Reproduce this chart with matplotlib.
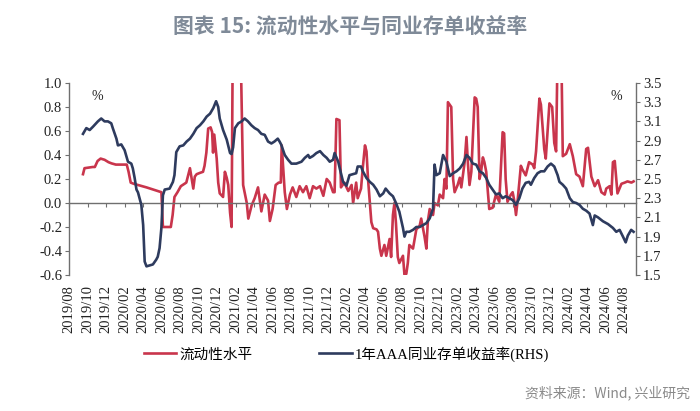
import pandas as pd
import matplotlib
matplotlib.use("Agg")
import matplotlib.pyplot as plt
import matplotlib.dates as mdates

plt.rcParams['font.serif'] = ['Liberation Serif', 'Times New Roman', 'DejaVu Serif']
plt.rcParams['font.family'] = ['serif', 'Noto Sans CJK SC']

# ===== DATA =====
liq_dates = [
    '2019-09-16', '2019-09-21', '2019-10-18', '2019-10-25', '2019-11-03', '2019-11-13', '2019-11-26',
    '2019-12-09', '2019-12-19', '2020-01-02', '2020-02-07', '2020-02-13', '2020-02-20', '2020-03-01',
    '2020-04-12', '2020-05-31', '2020-06-05', '2020-07-01', '2020-07-07', '2020-07-13', '2020-07-23',
    '2020-08-03', '2020-08-21', '2020-09-02', '2020-09-13', '2020-09-18', '2020-09-24', '2020-10-04',
    '2020-10-15', '2020-10-20', '2020-10-26', '2020-11-01', '2020-11-09', '2020-11-14', '2020-11-17',
    '2020-11-21', '2020-11-29', '2020-12-04', '2020-12-09', '2020-12-20', '2020-12-26', '2021-01-01',
    '2021-01-06', '2021-01-12', '2021-01-17', '2021-01-21', '2021-02-15', '2021-02-24', '2021-03-08',
    '2021-03-13', '2021-03-24', '2021-04-03', '2021-04-14', '2021-04-25', '2021-05-06', '2021-05-17',
    '2021-05-23', '2021-06-01', '2021-06-11', '2021-06-21', '2021-06-28', '2021-07-01', '2021-07-11',
    '2021-07-18', '2021-07-28', '2021-08-06', '2021-08-18', '2021-08-29', '2021-09-09', '2021-09-20',
    '2021-10-01', '2021-10-12', '2021-10-23', '2021-11-04', '2021-11-15', '2021-11-26', '2021-12-06',
    '2021-12-17', '2021-12-22', '2021-12-28', '2022-01-07', '2022-01-12', '2022-01-23', '2022-02-05',
    '2022-02-16', '2022-02-21', '2022-03-03', '2022-03-08', '2022-03-19', '2022-03-25', '2022-04-01',
    '2022-04-06', '2022-04-11', '2022-04-17', '2022-04-22', '2022-04-28', '2022-05-09', '2022-05-14',
    '2022-05-20', '2022-05-25', '2022-06-04', '2022-06-10', '2022-06-21', '2022-06-26', '2022-07-02',
    '2022-07-07', '2022-07-12', '2022-07-18', '2022-07-23', '2022-08-04', '2022-08-09', '2022-08-15',
    '2022-08-20', '2022-08-25', '2022-09-06', '2022-09-17', '2022-09-28', '2022-10-03', '2022-10-14',
    '2022-10-20', '2022-10-25', '2022-10-31', '2022-11-11', '2022-11-16', '2022-11-27', '2022-12-03',
    '2022-12-14', '2022-12-19', '2022-12-25', '2022-12-30', '2023-01-10', '2023-01-16', '2023-01-21',
    '2023-01-31', '2023-02-07', '2023-02-12', '2023-02-23', '2023-03-01', '2023-03-06', '2023-03-11',
    '2023-03-17', '2023-03-28', '2023-04-02', '2023-04-07', '2023-04-13', '2023-04-18', '2023-04-24',
    '2023-04-29', '2023-05-05', '2023-05-15', '2023-05-26', '2023-06-06', '2023-06-17', '2023-06-28',
    '2023-07-03', '2023-07-08', '2023-07-14', '2023-07-25', '2023-07-31', '2023-08-06', '2023-08-11',
    '2023-08-16', '2023-08-27', '2023-09-01', '2023-09-12', '2023-09-23', '2023-10-05', '2023-10-10',
    '2023-10-16', '2023-10-27', '2023-11-01', '2023-11-12', '2023-11-17', '2023-11-29', '2023-12-08',
    '2023-12-15', '2023-12-21', '2023-12-26', '2024-01-07', '2024-01-12', '2024-01-23', '2024-02-04',
    '2024-02-14', '2024-02-25', '2024-03-07', '2024-03-18', '2024-03-29', '2024-04-04', '2024-04-15',
    '2024-04-26', '2024-05-07', '2024-05-18', '2024-05-29', '2024-06-03', '2024-06-14', '2024-06-20',
    '2024-06-25', '2024-07-01', '2024-07-10', '2024-07-23', '2024-08-03', '2024-08-12', '2024-08-25',
    '2024-09-01',
]
liq_vals = [
    0.24, 0.29, 0.30, 0.30, 0.35, 0.37, 0.36,
    0.34, 0.33, 0.32, 0.32, 0.26, 0.17, 0.16,
    0.13, 0.09, -0.20, -0.20, -0.10, 0.05, 0.09,
    0.14, 0.17, 0.29, 0.12, 0.22, 0.24, 0.25,
    0.26, 0.31, 0.42, 0.62, 0.63, 0.59, 0.42,
    0.57, 0.37, 0.17, 0.08, 0.05, 0.26, 0.21,
    0.15, -0.08, -0.20, 1.40, 1.40, 0.15, 0.00,
    -0.13, -0.02, 0.04, 0.13, -0.07, 0.07, 0.02,
    -0.15, -0.05, 0.15, 0.17, 0.17, 0.48, 0.09,
    -0.05, 0.07, 0.13, 0.05, 0.14, 0.09, 0.14,
    0.04, 0.14, 0.12, 0.14, 0.06, 0.20, 0.17,
    0.09, 0.09, 0.70, 0.69, 0.13, 0.17, 0.10,
    0.15, 0.00, 0.17, 0.04, 0.12, 0.30, 0.48,
    0.43, 0.20, 0.00, -0.16, -0.21, -0.22, -0.24,
    -0.38, -0.44, -0.35, -0.44, -0.30, -0.45, -0.10,
    0.00, -0.17, -0.45, -0.50, -0.44, -0.60, -0.59,
    -0.50, -0.35, -0.38, -0.22, -0.19, -0.13, -0.28,
    -0.38, -0.15, -0.05, -0.10, 0.00, -0.02, 0.07,
    0.04, 0.20, 0.12, 0.84, 0.80, 0.20, 0.09,
    0.15, 0.21, 0.13, 0.34, 0.55, 0.32, 0.15,
    0.26, 0.88, 0.87, 0.80, 0.20, 0.26, 0.38,
    0.34, 0.26, -0.05, -0.04, 0.07, 0.01, 0.59,
    0.58, 0.20, 0.01, 0.07, 0.09, 0.01, -0.10,
    0.01, 0.31, 0.28, 0.23, 0.34, 0.32, 0.29,
    0.43, 0.87, 0.82, 0.45, 0.37, 0.83, 0.80,
    0.50, 0.43, 1.30, 1.30, 0.39, 0.41, 0.49,
    0.39, 0.24, 0.22, 0.14, 0.45, 0.46, 0.22,
    0.14, 0.19, 0.09, 0.07, 0.12, 0.14, 0.07,
    0.34, 0.35, 0.08, 0.16, 0.17, 0.18, 0.17,
    0.18,
]

ncd_dates = [
    '2019-09-16', '2019-09-27', '2019-10-08', '2019-10-19', '2019-11-04', '2019-11-15', '2019-11-26',
    '2019-12-07', '2019-12-18', '2019-12-23', '2020-01-04', '2020-01-09', '2020-01-20', '2020-01-31',
    '2020-02-11', '2020-02-22', '2020-02-27', '2020-03-04', '2020-03-10', '2020-03-15', '2020-03-20',
    '2020-03-26', '2020-04-01', '2020-04-06', '2020-04-12', '2020-04-22', '2020-05-03', '2020-05-14',
    '2020-05-19', '2020-05-25', '2020-05-31', '2020-06-05', '2020-06-11', '2020-06-27', '2020-07-08',
    '2020-07-13', '2020-07-19', '2020-07-30', '2020-08-11', '2020-08-22', '2020-09-02', '2020-09-13',
    '2020-09-24', '2020-10-05', '2020-10-16', '2020-10-27', '2020-11-07', '2020-11-18', '2020-11-27',
    '2020-12-04', '2020-12-09', '2020-12-20', '2021-01-01', '2021-01-12', '2021-01-17', '2021-01-22',
    '2021-01-28', '2021-02-08', '2021-02-19', '2021-03-01', '2021-03-12', '2021-03-23', '2021-04-03',
    '2021-04-14', '2021-04-25', '2021-05-06', '2021-05-17', '2021-05-28', '2021-06-07', '2021-06-18',
    '2021-06-24', '2021-06-29', '2021-07-11', '2021-07-22', '2021-08-02', '2021-08-18', '2021-09-04',
    '2021-09-15', '2021-09-26', '2021-10-01', '2021-10-12', '2021-10-23', '2021-11-04', '2021-11-15',
    '2021-11-26', '2021-12-06', '2021-12-17', '2021-12-22', '2022-01-03', '2022-01-08', '2022-01-19',
    '2022-01-30', '2022-02-09', '2022-02-20', '2022-03-03', '2022-03-08', '2022-03-19', '2022-03-25',
    '2022-04-06', '2022-04-17', '2022-04-28', '2022-05-09', '2022-05-20', '2022-05-31', '2022-06-08',
    '2022-06-21', '2022-07-02', '2022-07-12', '2022-07-23', '2022-08-04', '2022-08-09', '2022-08-15',
    '2022-08-25', '2022-09-06', '2022-09-17', '2022-09-28', '2022-10-09', '2022-10-20', '2022-10-31',
    '2022-11-11', '2022-11-16', '2022-11-22', '2022-12-03', '2022-12-14', '2022-12-25', '2023-01-05',
    '2023-01-16', '2023-01-27', '2023-02-07', '2023-02-18', '2023-03-01', '2023-03-11', '2023-03-22',
    '2023-04-02', '2023-04-13', '2023-04-24', '2023-05-05', '2023-05-15', '2023-05-26', '2023-06-06',
    '2023-06-17', '2023-06-28', '2023-07-08', '2023-07-20', '2023-07-31', '2023-08-11', '2023-08-22',
    '2023-09-01', '2023-09-12', '2023-09-23', '2023-09-29', '2023-10-10', '2023-10-21', '2023-11-01',
    '2023-11-12', '2023-11-23', '2023-12-04', '2023-12-15', '2023-12-26', '2024-01-01', '2024-01-12',
    '2024-01-23', '2024-02-04', '2024-02-14', '2024-02-25', '2024-03-07', '2024-03-18', '2024-03-29',
    '2024-04-09', '2024-04-20', '2024-04-26', '2024-05-07', '2024-05-23', '2024-06-09', '2024-06-25',
    '2024-07-06', '2024-07-17', '2024-07-28', '2024-08-06', '2024-08-13', '2024-08-24', '2024-09-01',
]
ncd_vals = [
    2.97, 3.03, 3.01, 3.045, 3.10, 3.13, 3.10,
    3.10, 3.08, 3.03, 2.92, 2.85, 2.86, 2.80,
    2.68, 2.66, 2.61, 2.51, 2.39, 2.36, 2.30,
    2.23, 2.02, 1.64, 1.59, 1.60, 1.61, 1.66,
    1.69, 1.78, 1.99, 2.33, 2.39, 2.40, 2.47,
    2.54, 2.78, 2.84, 2.85, 2.89, 2.92, 2.97,
    3.03, 3.06, 3.10, 3.15, 3.18, 3.24, 3.31,
    3.25, 3.13, 3.01, 2.91, 2.77, 2.76, 2.83,
    3.03, 3.08, 3.10, 3.13, 3.10, 3.06, 3.03,
    3.01, 2.97, 2.96, 2.89, 2.87, 2.89, 2.92,
    2.89, 2.86, 2.75, 2.70, 2.66, 2.66, 2.68,
    2.72, 2.75, 2.72, 2.74, 2.77, 2.79, 2.75,
    2.72, 2.68, 2.70, 2.77, 2.68, 2.61, 2.47,
    2.43, 2.54, 2.55, 2.56, 2.63, 2.63, 2.58,
    2.51, 2.47, 2.44, 2.39, 2.32, 2.35, 2.40,
    2.35, 2.32, 2.25, 2.16, 1.99, 1.90, 1.95,
    1.95, 1.97, 2.00, 2.00, 2.02, 2.04, 2.09,
    2.19, 2.65, 2.54, 2.56, 2.75, 2.68, 2.53,
    2.56, 2.58, 2.61, 2.66, 2.75, 2.72, 2.66,
    2.65, 2.58, 2.56, 2.51, 2.44, 2.39, 2.34,
    2.35, 2.30, 2.32, 2.30, 2.28, 2.23, 2.30,
    2.40, 2.46, 2.47, 2.44, 2.51, 2.56, 2.58,
    2.58, 2.63, 2.66, 2.63, 2.54, 2.47, 2.44,
    2.40, 2.30, 2.26, 2.25, 2.23, 2.19, 2.17,
    2.14, 2.02, 2.12, 2.10, 2.06, 2.03, 1.99,
    1.95, 1.97, 1.90, 1.84, 1.91, 1.97, 1.95,
]

liq_label = '流动性水平'
ncd_label = '1年AAA同业存单收益率(RHS)'
title = '图表 15: 流动性水平与同业存单收益率'
source = '资料来源：Wind, 兴业研究'

RED = '#c9354c'
NAVY = '#2e3b5e'
AXIS = '#6f6f6f'

# ===== PLOT =====
fig = plt.figure(figsize=(7, 4.11), dpi=100)
ax = fig.add_axes([0.0986, 0.3309, 0.81, 0.4672])
ax2 = ax.twinx()

l1, = ax.plot(pd.to_datetime(liq_dates), liq_vals, color=RED, lw=1.9, label=liq_label)
l2, = ax2.plot(pd.to_datetime(ncd_dates), ncd_vals, color=NAVY, lw=1.9, label=ncd_label)

ax.set_ylim(-0.6, 1.0)
ax.set_yticks([-0.6, -0.4, -0.2, 0.0, 0.2, 0.4, 0.6, 0.8, 1.0])
ax.yaxis.set_major_formatter(matplotlib.ticker.FormatStrFormatter('%.1f'))
ax2.set_ylim(1.5, 3.5)
ax2.set_yticks([1.5, 1.7, 1.9, 2.1, 2.3, 2.5, 2.7, 2.9, 3.1, 3.3, 3.5])
ax2.yaxis.set_major_formatter(matplotlib.ticker.FormatStrFormatter('%.1f'))

ax.set_xlim(pd.Timestamp('2019-08-01'), pd.Timestamp('2024-09-09'))
ax.set_xticks(pd.date_range('2019-08-01', '2024-08-01', freq='2MS'))
ax.xaxis.set_major_formatter(mdates.DateFormatter('%Y/%m'))

for s in ['top', 'right']:
    ax.spines[s].set_visible(False)
for s in ['top', 'bottom', 'left']:
    ax2.spines[s].set_visible(False)
ax.spines['bottom'].set_position(('data', 0))
for sp in [ax.spines['left'], ax.spines['bottom'], ax2.spines['right']]:
    sp.set_color(AXIS)
    sp.set_linewidth(1.0)

ax.tick_params(axis='x', direction='out', length=3, width=0.8, color=AXIS, pad=56,
               labelsize=10.5, labelcolor='#222222', labelrotation=90)
ax.tick_params(axis='y', direction='out', length=3, width=0.8, color=AXIS, pad=2,
               labelsize=10.5, labelcolor='#222222')
ax2.tick_params(axis='y', direction='out', length=3, width=0.8, color=AXIS, pad=2,
                labelsize=10.5, labelcolor='#222222')

ax.text(0.05, 0.93, '%', transform=ax.transAxes, fontsize=10, color='#222222', ha='center', va='center')
ax2.text(0.965, 0.93, '%', transform=ax2.transAxes, fontsize=10, color='#222222', ha='center', va='center')

fig.text(0.5, 0.934, title, ha='center', va='center', fontsize=15, fontweight='bold',
         color='#7f8a98', family=['Noto Sans CJK SC'])

fig.legend(handles=[l1, l2], loc='center', bbox_to_anchor=(0.495, 0.139), ncol=2, frameon=False,
           fontsize=10.5, handlelength=2.2, handletextpad=0.2, columnspacing=4.6)

fig.text(0.986, 0.045, source, ha='right', va='center', fontsize=10, color='#8a8a8a',
         family=['Noto Sans CJK SC'])

fig.savefig('out.png', dpi=100)
